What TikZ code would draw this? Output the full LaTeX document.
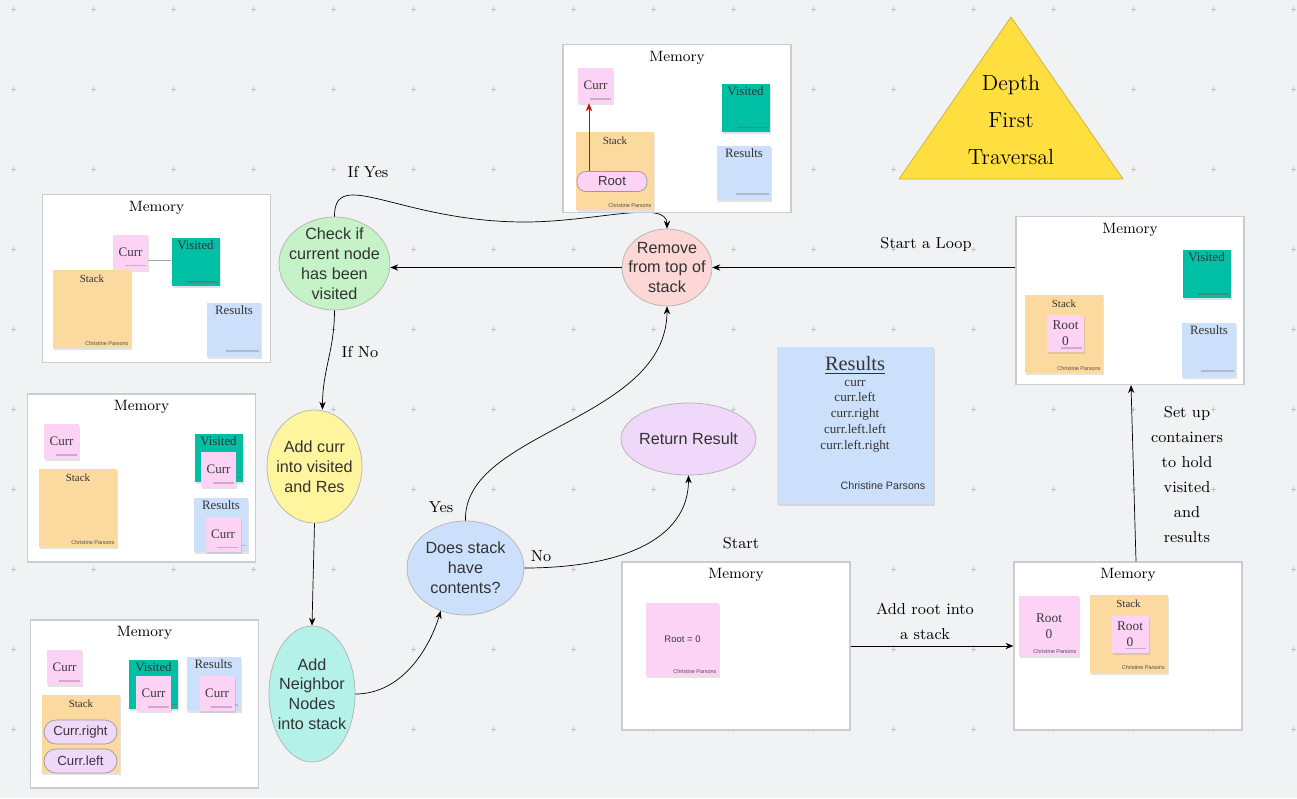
\documentclass[tikz,border=0pt]{standalone}
\usepackage{fontspec}
\usepackage{tikz}
\usetikzlibrary{arrows.meta, shapes.geometric, shadows}
\newfontfamily\notefont{Liberation Serif}
\newfontfamily\flowfont{Liberation Sans}
\newlength\pxu
\setlength\pxu{0.02cm}

\definecolor{boardgray}{HTML}{F1F2F4}
\definecolor{gridgray}{HTML}{C2C6CC}
\definecolor{boxgray}{HTML}{C9CCD1}
\definecolor{notepink}{HTML}{FCD3F4}
\definecolor{noteteal}{HTML}{00BFA5}
\definecolor{noteorange}{HTML}{FBD99F}
\definecolor{noteblue}{HTML}{CCE0FC}
\definecolor{notelilac}{HTML}{EFD8FA}
\definecolor{pinkbar}{HTML}{D2A9CC}
\definecolor{tealbar}{HTML}{3E8E80}
\definecolor{bluebar}{HTML}{AEBBCD}
\definecolor{flowgreen}{HTML}{C5F2C7}
\definecolor{flowrose}{HTML}{FDD6D6}
\definecolor{flowyellow}{HTML}{FFF59F}
\definecolor{flowaqua}{HTML}{B4F2E9}
\definecolor{flowblue}{HTML}{CCE0FC}
\definecolor{flowlilac}{HTML}{EFD8FA}
\definecolor{titleyellow}{HTML}{FFDF40}

\begin{document}
\begin{tikzpicture}[x=0.02cm, y=-0.02cm, >={Stealth[length=4.5pt,width=3.6pt]},
    flow/.style={ellipse, draw=black!30, fill=#1, inner sep=0pt},
    ftext/.style={label={[align=center, text=black!80, font=\flowfont\fontsize{9.2}{11.3}\selectfont]center:#1}},
    memory/.style={rectangle, draw=boxgray, fill=white, line width=0.7pt, minimum width=228\pxu, minimum height=168\pxu,
      label={[anchor=center, yshift=-14\pxu, font=\fontsize{8.5}{10}\selectfont]north:Memory}},
    note/.style={rectangle, inner sep=0pt, text=black!78, drop shadow={opacity=0.22, shadow xshift=0.8pt, shadow yshift=-1.4pt}},
    headbig/.style={label={[anchor=north, inner sep=1.6pt, text=black!80, font=\notefont\fontsize{7.3}{9}\selectfont]north:#1}},
    headsmall/.style={label={[anchor=north, inner sep=3pt, text=black!80, font=\notefont\fontsize{6.2}{8}\selectfont]north:#1}},
    signed/.style={label={[anchor=south east, inner sep=1.5pt, text=black!70, font=\flowfont\fontsize{3.1}{3.5}\selectfont]south east:Christine Parsons}},
    currnote/.style={note, fill=notepink, minimum size=35\pxu, font=\notefont\fontsize{7.4}{9}\selectfont,
      path picture={\draw[pinkbar, line width=0.7pt] ([xshift=-1.2pt,yshift=2.3pt]path picture bounding box.south east) -- ++(-12pt,0);}},
    rootnote/.style={currnote, minimum size=37\pxu, align=center, font=\notefont\fontsize{7.6}{9}\selectfont},
    visitnote/.style={note, fill=noteteal, minimum size=48\pxu, headbig=Visited,
      path picture={\draw[tealbar, line width=0.7pt] ([xshift=-0.6pt,yshift=2.3pt]path picture bounding box.south east) -- ++(-18pt,0);}},
    resnote/.style={note, fill=noteblue, minimum size=54\pxu, headbig=Results,
      path picture={\draw[bluebar, line width=0.7pt] ([xshift=-1.2pt,yshift=3.4pt]path picture bounding box.south east) -- ++(-18.5pt,0);}},
    stacknote/.style={note, fill=noteorange, minimum size=78\pxu, headsmall=Stack},
    pill/.style={rectangle, rounded corners=9\pxu, draw=black!40, fill=#1, minimum width=70\pxu, minimum height=20\pxu,
      inner sep=0pt, text=black!78, font=\flowfont\fontsize{7.5}{9}\selectfont},
    hand/.style={align=center, font=\fontsize{9}{14.2}\selectfont}]

  % board
  \useasboundingbox (0,0) rectangle (1297,798);
  \fill[boardgray] (0,0) rectangle (1297,798);
  \foreach \gx in {13,93,...,1293}
    \foreach \gy in {9,89,...,729}
      \draw[gridgray, line width=0.4pt] (\gx-2.5,\gy) -- (\gx+2.5,\gy) (\gx,\gy-2.5) -- (\gx,\gy+2.5);

  % title
  \draw[fill=titleyellow, draw=black!20!titleyellow] (1011,17) -- (899,179) -- (1123,179) -- cycle;
  \node[align=center, font=\fontsize{12.5}{21}\selectfont] (dfttitle) at (1011,120) {Depth\\First\\Traversal};

  % flow
  \node[flow=flowgreen, minimum width=111\pxu, minimum height=93\pxu, ftext={Check if\\current node\\has been\\visited}] (check) at (334.5,263.5) {};
  \node[flow=flowrose, minimum width=90\pxu, minimum height=77\pxu, ftext={Remove\\from top of\\stack}] (remove) at (667,267.5) {};
  \node[flow=flowyellow, minimum width=95\pxu, minimum height=113\pxu, ftext={Add curr\\into visited\\and Res}] (addcurr) at (314.5,466.5) {};
  \node[flow=flowaqua, minimum width=86\pxu, minimum height=136\pxu, ftext={Add\\Neighbor\\Nodes\\into stack}] (addnbr) at (312,694) {};
  \node[flow=flowblue, minimum width=117\pxu, minimum height=94\pxu, ftext={Does stack\\have\\contents?}] (hasstack) at (465.5,568) {};
  \node[flow=flowlilac, minimum width=135\pxu, minimum height=72\pxu, ftext={Return Result}] (retres) at (688.5,439) {};

  \draw[->] (remove.west) -- (remove.west -| check.east);
  \draw[->] (check.north) .. controls (334,165) and (400,222) .. (525,222) .. controls (595,222) and (667,199) .. (remove.north);
  \draw[->] (check.south) .. controls +(0,40) and +(0,-40) .. ([xshift=8\pxu]addcurr.north);
  \draw[->] (addcurr.south) -- (addnbr.north);
  \draw[->] (addnbr.east) .. controls +(45,0) and +(-12,40) .. (hasstack.240);
  \draw[->] (hasstack.north) .. controls +(-3,-90) and +(0,115) .. (remove.south);
  \draw[->] (hasstack.east) .. controls +(95,0) and +(0,65) .. (retres.south);

  \node[hand] (ifyes) at (368,172) {If Yes};
  \node[hand] (ifno) at (360,352) {If No};
  \node[hand] (yes) at (441,507) {Yes};
  \node[hand] (no) at (541,556) {No};

  % memory: top
  \node[memory] (memtop) at (677,128.5) {};
  \node[currnote] (topcurr) at (595.5,85.5) {Curr};
  \node[visitnote] (topvisit) at (745.5,107.5) {};
  \node[stacknote, signed] (topstack) at (615,171) {};
  \node[pill=notepink] (toproot) at (612,181.5) {Root};
  \node[resnote] (topres) at (744,173) {};
  \draw[->, red!85!black] ([xshift=-6.5\pxu]topcurr.south |- toproot.north) -- ([xshift=-6.5\pxu]topcurr.south);

  % memory: check
  \node[memory] (memcheck) at (156.5,278.5) {};
  \node[currnote] (chkcurr) at (130.5,252) {Curr};
  \node[visitnote] (chkvisit) at (195.5,262) {};
  \draw[black!35] ([yshift=-8\pxu]chkcurr.east) -- ([yshift=-8\pxu]chkcurr.east -| chkvisit.west);
  \node[stacknote, signed] (chkstack) at (92,309) {};
  \node[resnote] (chkres) at (234,330) {};

  % memory: add curr
  \node[memory] (memadd) at (141.5,478) {};
  \node[currnote] (addcurrA) at (61.5,441.5) {Curr};
  \node[stacknote, signed] (addstack) at (78,508) {};
  \node[visitnote] (addvisit) at (218.5,457.5) {};
  \node[currnote] (addcurrB) at (218.5,469.5) {Curr};
  \node[resnote] (addres) at (221,524.5) {};
  \node[currnote] (addcurrC) at (223,534) {Curr};

  % memory: neighbours
  \node[memory] (memnbr) at (144.5,704) {};
  \node[currnote] (nbrcurrA) at (64.5,667.5) {Curr};
  \node[stacknote] (nbrstack) at (81,734) {};
  \node[pill=notelilac, minimum width=73\pxu, minimum height=24\pxu, rounded corners=12\pxu] (nbrright) at (80.5,732) {Curr.right};
  \node[pill=notelilac, minimum width=73\pxu, minimum height=24\pxu, rounded corners=12\pxu] (nbrleft) at (80.5,761) {Curr.left};
  \node[visitnote, minimum size=49\pxu] (nbrvisit) at (153.5,684) {};
  \node[currnote] (nbrcurrB) at (153.5,693.5) {Curr};
  \node[resnote] (nbrres) at (213.5,684) {};
  \node[currnote] (nbrcurrC) at (217,693.5) {Curr};

  % memory: start
  \node[memory] (memstart) at (736,646) {};
  \node[note, fill=notepink, minimum size=73\pxu, font=\flowfont\fontsize{5.4}{7}\selectfont, signed] (startroot) at (682.5,639.5) {Root = 0};
  \node[hand] (start) at (741,543) {Start};

  % memory: root pushed
  \node[memory] (memroot) at (1128,646) {};
  \node[note, fill=notepink, minimum size=60\pxu, align=center, font=\notefont\fontsize{7.6}{9}\selectfont, signed] (rootA) at (1049,626) {Root\\0};
  \node[stacknote, signed] (rootstack) at (1128.5,633.5) {};
  \node[rootnote] (rootB) at (1130,634) {Root\\0};

  % memory: loop
  \node[memory] (memloop) at (1130,300.5) {};
  \node[visitnote] (loopvisit) at (1206.5,274) {};
  \node[stacknote, signed] (loopstack) at (1064,334) {};
  \node[rootnote] (looproot) at (1065.5,333.5) {Root\\0};
  \node[resnote] (loopres) at (1209,350) {};

  \draw[->] (memstart.east) -- (memroot.west);
  \draw[->] ([xshift=8\pxu]memroot.north) -- ([xshift=1\pxu]memloop.south);
  \draw[->] (memloop.west |- remove.east) -- (remove.east);

  \node[hand] (addroot) at (925,621) {Add root into\\a stack};
  \node[hand] (setup) at (1187,474.5) {Set up\\containers\\to hold\\visited\\and\\results};
  \node[hand] (loop) at (926,244) {Start a Loop};

  % results note
  \node[note, fill=noteblue, minimum size=157\pxu] (bigres) at (855.5,425.5) {};
  \node[text=black!80, font=\notefont\fontsize{11.6}{13}\selectfont] (bigrestitle) at (855,365) {\underline{Results}};
  \node[align=center, text=black!80, font=\notefont\fontsize{7.45}{9}\selectfont] (bigreslist) at (855,416) {curr\\curr.left\\curr.right\\curr.left.left\\curr.left.right};
  \node[text=black!80, font=\flowfont\fontsize{6.1}{7}\selectfont] (bigressign) at (883,486) {Christine Parsons};
\end{tikzpicture}
\end{document}
